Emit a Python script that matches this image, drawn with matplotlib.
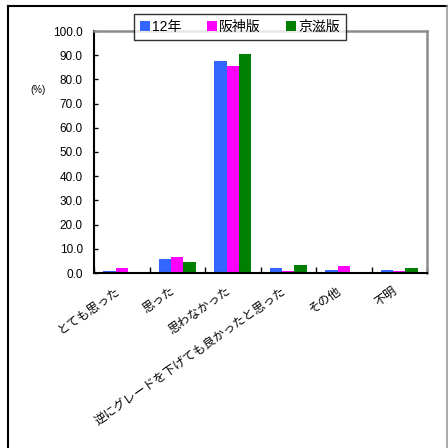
import numpy as np
import matplotlib
matplotlib.use("Agg")
from matplotlib import pyplot as plt
from matplotlib.lines import Line2D

plt.rcParams['font.family'] = ['Liberation Sans', 'Noto Sans CJK JP', 'DejaVu Sans']

# datos
categorias = ['とても思った', '思った', '思わなかった', '逆にグレードを下げても良かったと思った', 'その他', '不明']
series = ['12年', '阪神版', '京滋版']
v_12 = [0.9, 5.8, 87.6, 2.1, 1.3, 1.3]
v_hanshin = [2.1, 6.6, 85.5, 0.9, 2.9, 0.9]
v_keiji = [0.0, 4.7, 90.3, 3.3, 0.0, 2.1]
colores = ['#3366FF', '#FF00FF', '#008000']
yticks = np.arange(0, 101, 10)

fig = plt.figure(figsize=(4.48, 4.48), dpi=100)
ax = fig.add_axes([94/448, 1-273/448, (427-94)/448, (273-31)/448])

x = np.arange(len(categorias))
w = 0.225
for k, vals in enumerate([v_12, v_hanshin, v_keiji]):
    ax.bar(x + (k-1)*w, vals, w, color=colores[k], label=series[k], zorder=2)

ax.set_xlim(-0.5, len(categorias)-0.5)
ax.set_ylim(0, 100)
ax.set_yticks(yticks)
ax.set_yticklabels(['%.1f' % t for t in yticks], fontsize=8.5)
ax.tick_params(axis='y', direction='in', length=3, width=1, pad=8)

ax.set_xticks(x)
ax.set_xticklabels([])
ax.set_xticks(np.arange(len(categorias)+1) - 0.5, minor=True)
ax.tick_params(axis='x', which='major', length=0)
ax.tick_params(axis='x', which='minor', direction='in', length=4, width=1)

for i, c in enumerate(categorias):
    ax.text(i - 0.12, -5.0, c, rotation=35, rotation_mode='anchor', ha='right', va='top',
            fontsize=8.7, transform=ax.transData, clip_on=False)

for s in ['left', 'bottom']:
    ax.spines[s].set_color('black')
    ax.spines[s].set_linewidth(1.5)
for s in ['top', 'right']:
    ax.spines[s].set_color('#8c8c8c')
    ax.spines[s].set_linewidth(1.8)

fig.text(38/448, 1-90/448, '(%)', fontsize=7, ha='center', va='center')

leg = fig.legend(loc='upper center', bbox_to_anchor=(240/448, 1-7/448), ncol=3,
                 fontsize=10, frameon=True, fancybox=False, handlelength=0.7, handleheight=0.7,
                 handletextpad=0.2, columnspacing=1.8, borderpad=0.45)
leg.get_frame().set_edgecolor('black')
leg.get_frame().set_linewidth(1.0)

# marco exterior
fig.add_artist(Line2D([7.5/448, 7.5/448], [0, 1-6/448], color='black', lw=1.5, transform=fig.transFigure))
fig.add_artist(Line2D([7.5/448, 446.5/448], [1-6/448, 1-6/448], color='black', lw=1.5, transform=fig.transFigure))
fig.add_artist(Line2D([446.5/448, 446.5/448], [0, 1-6/448], color='#999999', lw=1.2, transform=fig.transFigure))

fig.savefig('out.png', dpi=100)
